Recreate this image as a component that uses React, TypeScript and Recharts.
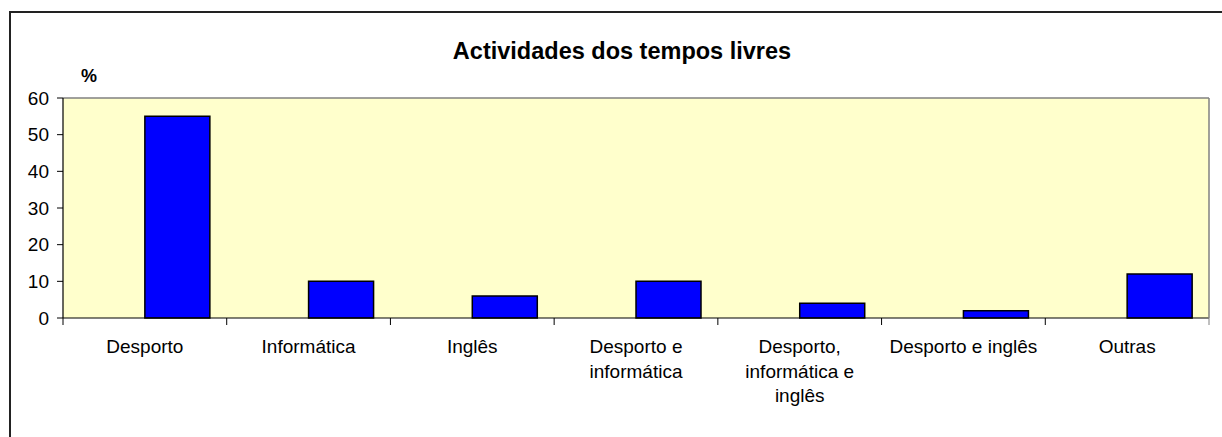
import React from "react";
import { BarChart, Bar, XAxis, YAxis, ReferenceLine } from "recharts";

const categories = [
  "Desporto",
  "Informática",
  "Inglês",
  "Desporto e informática",
  "Desporto, informática e inglês",
  "Desporto e inglês",
  "Outras",
];
const values = [55, 10, 6, 10, 4, 2, 12];
const tickLabelLines = [
  ["Desporto"],
  ["Informática"],
  ["Inglês"],
  ["Desporto e", "informática"],
  ["Desporto,", "informática e", "inglês"],
  ["Desporto e inglês"],
  ["Outras"],
];
const yTicks = [0, 10, 20, 30, 40, 50, 60];
const title = "Actividades dos tempos livres";
const yUnit = "%";

const data = categories.map((c, i) => ({ category: c, value: values[i] }));

const CHART_W = 1222;
const CHART_H = 437;
const XAXIS_H = 119;
const RAXIS_W = 1;
const MARGIN = { top: 98, right: 12, bottom: 0, left: 0 };
const YAXIS_W = 63;
const PLOT_W = CHART_W - MARGIN.left - MARGIN.right - YAXIS_W - RAXIS_W;
const PLOT_H = CHART_H - MARGIN.top - MARGIN.bottom - XAXIS_H;
const HALF_BAND = PLOT_W / categories.length / 2;
const FONT = "'Liberation Sans', Arial, sans-serif";

const CategoryTick = (props: any) => {
  const { x, y, index, payload } = props;
  const lines = tickLabelLines[index] || [String(payload.value)];
  return (
    <g>
      <line x1={x - HALF_BAND} x2={x - HALF_BAND} y1={y} y2={y + 7} stroke="#000" strokeWidth={1} />
      {index === categories.length - 1 && (
        <line x1={x + HALF_BAND} x2={x + HALF_BAND} y1={y} y2={y + 7} stroke="#808080" strokeWidth={1} />
      )}
      <text x={x} y={y + 35} textAnchor="middle" fontSize={19} fontFamily={FONT} fill="#000">
        {lines.map((l: string, i: number) => (
          <tspan key={i} x={x} dy={i === 0 ? 0 : 24.5}>
            {l}
          </tspan>
        ))}
      </text>
    </g>
  );
};

export default function App() {
  return (
    <div
      style={{
        position: "absolute",
        left: 0,
        top: 0,
        width: CHART_W,
        height: CHART_H,
        overflow: "hidden",
        background: "#fff",
      }}
    >
      <svg width={CHART_W} height={CHART_H} style={{ position: "absolute", left: 0, top: 0 }}>
        <rect
          x={MARGIN.left + YAXIS_W}
          y={MARGIN.top}
          width={PLOT_W}
          height={PLOT_H}
          fill="#FFFFCC"
        />
        <text x={622} y={59} textAnchor="middle" fontSize={23.5} fontWeight="bold" fontFamily={FONT} fill="#000">
          {title}
        </text>
        <text x={89} y={82} textAnchor="middle" fontSize={18} fontWeight="bold" fontFamily={FONT} fill="#000">
          {yUnit}
        </text>
      </svg>
      <div
        style={{
          position: "absolute",
          left: 9,
          top: 11,
          width: 1400,
          height: 600,
          border: "2px solid #222",
          boxSizing: "border-box",
        }}
      />
      <div style={{ position: "absolute", left: 0, top: 0 }}>
        <BarChart
          width={CHART_W}
          height={CHART_H}
          data={data}
          margin={MARGIN}
          barCategoryGap="10.3%"
          barGap={0}
        >
          <XAxis
            dataKey="category"
            xAxisId="cat"
            height={XAXIS_H}
            tickLine={false}
            tickSize={0}
            tickMargin={0}
            interval={0}
            axisLine={{ stroke: "#000", strokeWidth: 1.2 }}
            tick={<CategoryTick />}
          />
          <YAxis
            yAxisId="left"
            width={YAXIS_W}
            domain={[0, 60]}
            ticks={yTicks}
            interval={0}
            tickSize={6}
            tickMargin={8}
            axisLine={{ stroke: "#000", strokeWidth: 1.2 }}
            tickLine={{ stroke: "#000" }}
            tick={{ fontSize: 19, fontFamily: FONT, fill: "#000" }}
          />
          <YAxis
            yAxisId="right"
            orientation="right"
            width={RAXIS_W}
            domain={[0, 60]}
            tick={false}
            tickLine={false}
            axisLine={{ stroke: "#808080", strokeWidth: 1.5 }}
          />
          <ReferenceLine yAxisId="left" xAxisId="cat" y={60} stroke="#808080" strokeWidth={1.5} />
          <Bar dataKey="none" xAxisId="cat" yAxisId="left" isAnimationActive={false} />
          <Bar
            dataKey="value"
            xAxisId="cat"
            yAxisId="left"
            fill="#0000FF"
            stroke="#000"
            strokeWidth={1.5}
            isAnimationActive={false}
          />
        </BarChart>
      </div>
    </div>
  );
}
